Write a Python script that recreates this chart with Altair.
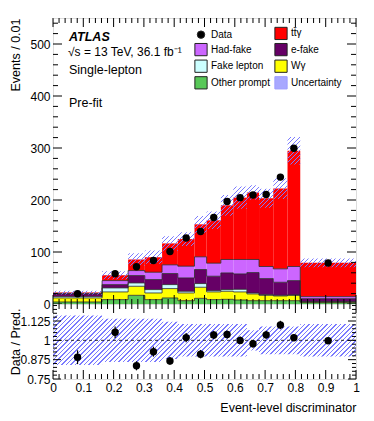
import math
import altair as alt
import pandas as pd

# ---------------- data ----------------
bin_edges = [0.0, 0.162, 0.248, 0.303, 0.36, 0.412, 0.467, 0.507, 0.554,
             0.595, 0.64, 0.68, 0.727, 0.774, 0.816, 1.0]
data_counts = [19.6, 58.2, 71.5, 83.5, 101, 127, 139.5, 166.5, 197,
               204.5, 209.5, 210.5, 244, 299.5, 79]
data_rel_err = [0.05, 0.035, 0.035, 0.035, 0.03, 0.03, 0.03, 0.025, 0.025,
                0.025, 0.025, 0.025, 0.025, 0.02, 0.02]
other_prompt = [3.9, 8.4, 16.7, 8.4, 11.6, 6.4, 10.9, 8.4, 9.0, 7.7, 6.4, 6.4, 6.4, 6.4, 2.6]
w_gamma = [7.7, 14.8, 17.4, 12.8, 18.0, 14.8, 21.3, 14.8, 15.5, 15.5, 12.9, 10.3, 9.0, 10.3, 1.3]
fake_lepton = [2.6, 7.7, 6.4, 6.5, 7.7, 3.3, 7.1, 2.5, 3.2, 5.1, 1.9, 1.3, 1.3, 0.7, 0.6]
e_fake = [5.1, 6.4, 14.2, 19.3, 21.3, 25.7, 27.0, 27.7, 32.1, 29.6, 39.3, 30.9, 25.1, 27.6, 5.8]
had_fake = [1.2, 7.7, 9.6, 14.1, 16.7, 22.5, 24.4, 25.1, 25.8, 27.7, 25.1, 23.2, 25.8, 27.1, 3.9]
tt_gamma = [1.5, 10.3, 21.3, 29.0, 41.2, 52.1, 62.5, 82.4, 104.2, 119.0, 128.7, 131.2, 154.4, 222.6, 65.0]
rel_uncertainty = [0.16, 0.14, 0.14, 0.14, 0.12, 0.105, 0.105, 0.105, 0.105,
                   0.105, 0.065, 0.09, 0.09, 0.09, 0.105]

stack_names = ["Other prompt", "Wγ", "Fake lepton", "e-fake", "Had-fake", "tt̄γ"]
stack_values = [other_prompt, w_gamma, fake_lepton, e_fake, had_fake, tt_gamma]
# legend is filled column by column: left column first, then right column
legend_order = ["Data", "Had-fake", "Fake lepton", "Other prompt",
                "tt̄γ", "e-fake", "Wγ", "Uncertainty"]
legend_colors = ["#000000", "#cc66ff", "#ccffff", "#58c858",
                 "#ff0000", "#660066", "#ffff00", "#a8a8ff"]

annotations = ["ATLAS", "√s = 13 TeV, 36.1  fb⁻¹", "Single-lepton", "Pre-fit"]
x_labels = [0, 0.1, 0.2, 0.3, 0.4, 0.5, 0.6, 0.7, 0.8, 0.9, 1]
y_labels_top = [0, 100, 200, 300, 400, 500]
y_labels_ratio = [0.75, 0.875, 1, 1.125]
ratio_reference = [1.0]

# ---------------- geometry / style ----------------
W = 303
H_TOP = 286
H_RATIO = 75
Y_TOP_MAX = 550
RATIO_DOMAIN = [0.75, 1.235]
FONT = "Liberation Sans"
HATCH = "#7b7bff"
LABEL_EXPR = "format(datum.value, '~f')"

# ---------------- derived tables ----------------
nb = len(data_counts)
centers = [(bin_edges[i] + bin_edges[i + 1]) / 2 for i in range(nb)]
totals = [sum(s[i] for s in stack_values) for i in range(nb)]

rect_rows, line_rows = [], []
for i in range(nb):
    base = 0.0
    for name, vals in zip(stack_names, stack_values):
        rect_rows.append({"lo": bin_edges[i], "hi": bin_edges[i + 1],
                          "y0": base, "y1": base + vals[i], "comp": name})
        base += vals[i]
for k, name in enumerate(stack_names[:-1]):
    for j, e in enumerate(bin_edges):
        b = min(j, nb - 1)
        top = sum(stack_values[m][b] for m in range(k + 1))
        line_rows.append({"x": e, "y": top, "comp": name})
rects = pd.DataFrame(rect_rows)
outlines = pd.DataFrame(line_rows)

band_rows, rband_rows = [], []
for j, e in enumerate(bin_edges):
    b = min(j, nb - 1)
    u = rel_uncertainty[b]
    band_rows.append({"x": e, "lo": totals[b] * (1 - u), "hi": totals[b] * (1 + u)})
    rband_rows.append({"x": e, "lo": 1 - u, "hi": 1 + u})
band = pd.DataFrame(band_rows)
rband = pd.DataFrame(rband_rows)

pts = pd.DataFrame({
    "xc": centers,
    "d": data_counts,
    "dlo": [d * (1 - e) for d, e in zip(data_counts, data_rel_err)],
    "dhi": [d * (1 + e) for d, e in zip(data_counts, data_rel_err)],
    "r": [d / t for d, t in zip(data_counts, totals)],
    "rlo": [d / t - e * d / t for d, t, e in zip(data_counts, totals, data_rel_err)],
    "rhi": [d / t + e * d / t for d, t, e in zip(data_counts, totals, data_rel_err)],
})


def hatch(w, h, period=4.5, line=1.3, color=HATCH):
    r = h / w
    a = (w + h) / (w * (1 + r * r))
    dt = period / (w + h)
    lt = line / (w + h)
    clear = "rgba(255,255,255,0)"
    stops = []
    t0 = 0.0
    while t0 < 1:
        m = min(t0 + dt - lt, 1)
        e = min(t0 + dt, 1)
        stops += [alt.GradientStop(offset=t0, color=clear),
                  alt.GradientStop(offset=m, color=clear),
                  alt.GradientStop(offset=m, color=color),
                  alt.GradientStop(offset=e, color=color)]
        t0 += dt
    return alt.LinearGradient(gradient="linear", stops=stops,
                              x1=0, y1=0, x2=a, y2=a * r)


top_h_px = (max(band["hi"]) - min(band["lo"])) / Y_TOP_MAX * H_TOP
ratio_h_px = ((max(rband["hi"]) - min(rband["lo"]))
              / (RATIO_DOMAIN[1] - RATIO_DOMAIN[0]) * H_RATIO)

# ---------------- scales and axes ----------------
xs = alt.Scale(domain=[0, 1], nice=False, zero=False)
ys_top = alt.Scale(domain=[0, Y_TOP_MAX], nice=False)
ys_rat = alt.Scale(domain=RATIO_DOMAIN, nice=False, zero=False)

ax_top_y = alt.Axis(values=y_labels_top, labelExpr=LABEL_EXPR, ticks=False, domain=False,
                    grid=False, labelPadding=3, labelFontSize=12, labelOverlap=False,
                    title="Events / 0.01", titleAlign="right",
                    titleAngle=270, titleBaseline="top", titleX=-44, titleY=0,
                    titleFontSize=12.5, titleFontWeight="normal")
ax_rat_y = alt.Axis(values=y_labels_ratio, labelExpr=LABEL_EXPR, ticks=False, domain=False,
                    grid=False, labelPadding=3, labelFontSize=12, labelOverlap=False,
                    title="Data / Pred.", titleAngle=270, titleBaseline="top",
                    titleAlign="center", titleX=-44, titleY=H_RATIO / 2,
                    titleFontSize=12.5, titleFontWeight="normal")
ax_rat_x = alt.Axis(values=x_labels, labelExpr=LABEL_EXPR, ticks=False, domain=False,
                    grid=False, labelPadding=3, labelFontSize=12, labelFlush=False,
                    labelOverlap=False, title="Event-level discriminator",
                    titleAnchor="end", titleAlign="right", titlePadding=8,
                    titleFontSize=12.5, titleFontWeight="normal")


def tick_layer(values, orient, length, yscale, yaxis, xaxis, h):
    df = pd.DataFrame({"v": values})
    base = alt.Chart(df).mark_rule(color="black", strokeWidth=1)
    if orient == "left":
        return base.encode(y=alt.Y("v:Q", scale=yscale, axis=yaxis),
                           x=alt.value(0), x2=alt.value(length))
    if orient == "right":
        return base.encode(y=alt.Y("v:Q", scale=yscale, axis=yaxis),
                           x=alt.value(W), x2=alt.value(W - length))
    if orient == "bottom":
        return base.encode(x=alt.X("v:Q", scale=xs, axis=xaxis),
                           y=alt.value(h), y2=alt.value(h - length))
    return base.encode(x=alt.X("v:Q", scale=xs, axis=xaxis),
                       y=alt.value(0), y2=alt.value(length))


def frange(a, b, step):
    n = int(round((b - a) / step))
    return [round(a + i * step, 6) for i in range(n + 1)]


x_major = frange(0, 1, 0.1)
x_minor = [v for v in frange(0, 1, 0.02) if all(abs(v - m) > 1e-6 for m in x_major)]
ytop_major = frange(0, 500, 100)
ytop_minor = [v for v in frange(0, 540, 20) if v % 100 != 0]
yrat_major = [v for v in frange(0.75, 1.25, 0.125) if v <= RATIO_DOMAIN[1]]
yrat_minor = [v for v in frange(0.75, 1.25, 0.025)
              if all(abs(v - m) > 1e-6 for m in yrat_major) and v <= RATIO_DOMAIN[1]]


def all_ticks(ymaj, ymin, yscale, yaxis, xaxis, h, ymaj_len, ymin_len):
    layers = []
    for o in ("left", "right"):
        layers.append(tick_layer(ymaj, o, ymaj_len, yscale, yaxis, xaxis, h))
        layers.append(tick_layer(ymin, o, ymin_len, yscale, yaxis, xaxis, h))
    for o in ("bottom", "top"):
        layers.append(tick_layer(x_major, o, 9, yscale, yaxis, xaxis, h))
        layers.append(tick_layer(x_minor, o, 5, yscale, yaxis, xaxis, h))
    return layers


# ---------------- top panel ----------------
legend = alt.Legend(
    orient="none", legendX=141, legendY=8, columns=2, title=None, padding=0,
    labelFont=FONT, labelFontSize=10, labelOffset=3, columnPadding=2,
    rowPadding=-1.4, gridAlign="each",
    symbolType=alt.ExprRef(expr="datum.label == 'Data' ? 'circle' : 'square'"),
    symbolSize=alt.ExprRef(expr="datum.label == 'Data' ? 55 : 150"),
    symbolStrokeColor=alt.ExprRef(expr="datum.label == 'Uncertainty' ? '#9c9cff' : '#222222'"),
    symbolStrokeWidth=1, symbolOpacity=1,
)

stack = alt.Chart(rects).mark_rect(strokeWidth=0).encode(
    x=alt.X("lo:Q", scale=xs, axis=None), x2="hi:Q",
    y=alt.Y("y0:Q", scale=ys_top, axis=ax_top_y), y2="y1:Q",
    color=alt.Color("comp:N", scale=alt.Scale(domain=legend_order, range=legend_colors),
                    legend=legend),
)
outline = alt.Chart(outlines).mark_line(interpolate="step-after", color="#2a2a2a",
                                        strokeWidth=0.8).encode(
    x=alt.X("x:Q", scale=xs, axis=None),
    y=alt.Y("y:Q", scale=ys_top, axis=ax_top_y),
    detail="comp:N",
)
unc_top = alt.Chart(band).mark_area(interpolate="step-after",
                                    fill=hatch(W, top_h_px)).encode(
    x=alt.X("x:Q", scale=xs, axis=None),
    y=alt.Y("lo:Q", scale=ys_top, axis=ax_top_y), y2="hi:Q",
)
err_top = alt.Chart(pts).mark_rule(color="black", strokeWidth=1.2).encode(
    x=alt.X("xc:Q", scale=xs, axis=None),
    y=alt.Y("dlo:Q", scale=ys_top, axis=ax_top_y), y2="dhi:Q",
)
pts_top = alt.Chart(pts).mark_circle(size=55, color="black", opacity=1).encode(
    x=alt.X("xc:Q", scale=xs, axis=None),
    y=alt.Y("d:Q", scale=ys_top, axis=ax_top_y),
)

text_specs = [
    (annotations[0], 16, 19, 12.5, "bold", "italic"),
    (annotations[1], 15, 34, 12, "normal", "normal"),
    (annotations[2], 16, 52, 12.5, "normal", "normal"),
    (annotations[3], 16, 85, 12.5, "normal", "normal"),
]
texts = []
for t, tx, ty, fs, fw, fst in text_specs:
    texts.append(
        alt.Chart(pd.DataFrame({"t": [t]})).mark_text(
            align="left", baseline="middle", font=FONT, fontSize=fs,
            fontWeight=fw, fontStyle=fst, color="black",
        ).encode(text="t:N", x=alt.value(tx), y=alt.value(ty))
    )

top = alt.layer(
    stack, outline, unc_top, err_top, pts_top, *texts,
    *all_ticks(ytop_major, ytop_minor, ys_top, ax_top_y, None, H_TOP, 9, 5),
).properties(width=W, height=H_TOP)

# ---------------- ratio panel ----------------
unc_rat = alt.Chart(rband).mark_area(interpolate="step-after",
                                     fill=hatch(W, ratio_h_px)).encode(
    x=alt.X("x:Q", scale=xs, axis=ax_rat_x),
    y=alt.Y("lo:Q", scale=ys_rat, axis=ax_rat_y), y2="hi:Q",
)
ref_line = alt.Chart(pd.DataFrame({"v": ratio_reference})).mark_rule(
    color="black", strokeWidth=0.8, strokeDash=[3, 3]).encode(
    y=alt.Y("v:Q", scale=ys_rat, axis=ax_rat_y),
)
err_rat = alt.Chart(pts).mark_rule(color="black", strokeWidth=1.2).encode(
    x=alt.X("xc:Q", scale=xs, axis=ax_rat_x),
    y=alt.Y("rlo:Q", scale=ys_rat, axis=ax_rat_y), y2="rhi:Q",
)
pts_rat = alt.Chart(pts).mark_circle(size=55, color="black", opacity=1).encode(
    x=alt.X("xc:Q", scale=xs, axis=ax_rat_x),
    y=alt.Y("r:Q", scale=ys_rat, axis=ax_rat_y),
)

ratio = alt.layer(
    unc_rat, ref_line, err_rat, pts_rat,
    *all_ticks(yrat_major, yrat_minor, ys_rat, ax_rat_y, ax_rat_x, H_RATIO, 8, 4),
).properties(width=W, height=H_RATIO)

chart = alt.vconcat(top, ratio, spacing=0, bounds="flush").properties(
    padding={"left": 0, "top": 9, "right": 5, "bottom": 2}
).configure_view(stroke="black", strokeWidth=1).configure(
    font=FONT
).configure_axis(labelFont=FONT, titleFont=FONT, labelColor="black", titleColor="black")

chart.save("out.html", embed_options={"renderer": "svg", "actions": False})
